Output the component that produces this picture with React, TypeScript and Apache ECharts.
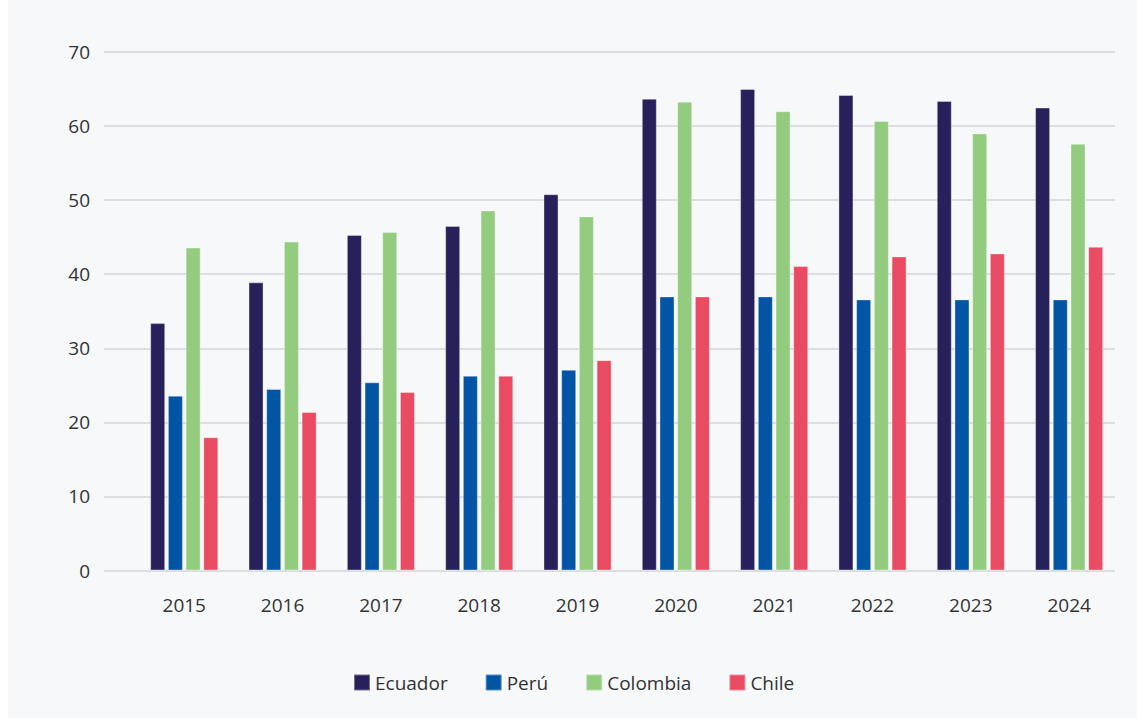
import React, { useEffect, useRef } from "react";
import * as echarts from "echarts";

const years = ["2015", "2016", "2017", "2018", "2019", "2020", "2021", "2022", "2023", "2024"];
const ecuador = [33.4, 38.9, 45.3, 46.5, 50.8, 63.7, 65.0, 64.2, 63.4, 62.5];
const peru = [23.6, 24.5, 25.4, 26.3, 27.1, 37.0, 37.0, 36.6, 36.6, 36.6];
const colombia = [43.6, 44.4, 45.7, 48.6, 47.8, 63.3, 62.0, 60.7, 59.0, 57.6];
const chile = [18.0, 21.4, 24.1, 26.3, 28.4, 37.0, 41.1, 42.4, 42.8, 43.7];
const seriesNames = ["Ecuador", "Perú", "Colombia", "Chile"];
const seriesColors = ["#26215a", "#0254a5", "#93cb7f", "#e94c62"];
const yTicks = { min: 0, max: 70, interval: 10 };

const FONT = "'Open Sans', 'Noto Sans', sans-serif";

export default function App() {
  const ref = useRef<HTMLDivElement>(null);
  useEffect(() => {
    if (!ref.current) return;
    const chart = echarts.init(ref.current, null, { renderer: "svg" });
    const datasets = [ecuador, peru, colombia, chile];
    chart.setOption({
      animation: false,
      backgroundColor: "#f7f8fa",
      textStyle: { fontFamily: FONT },
      legend: {
        left: 340,
        top: 668,
        itemWidth: 16,
        itemHeight: 16,
        itemGap: 37,
        icon: "rect",
        textStyle: { fontSize: 19, color: "#333", fontFamily: FONT, padding: [0, 0, 0, 0] },
        data: seriesNames,
      },
      grid: [
        { left: 96, top: 52, width: 1011, height: 518.5 },
        { left: 127.1, top: 52, width: 983.2, height: 518.5 },
      ],
      xAxis: [
        { gridIndex: 0, type: "category", data: years, show: false },
        {
          gridIndex: 1,
          type: "category",
          data: years,
          axisLine: { show: false },
          axisTick: { show: false },
          axisLabel: { color: "#333", fontSize: 19, margin: 25, fontFamily: FONT },
        },
      ],
      yAxis: [
        {
          gridIndex: 0,
          type: "value",
          min: yTicks.min,
          max: yTicks.max,
          interval: yTicks.interval,
          axisLine: { show: false },
          axisTick: { show: false },
          axisLabel: { color: "#333", fontSize: 19, margin: 14, fontFamily: FONT },
          splitLine: { lineStyle: { color: "#dcdde1", width: 2 } },
        },
        {
          gridIndex: 1,
          type: "value",
          min: yTicks.min,
          max: yTicks.max,
          interval: yTicks.interval,
          show: false,
          splitLine: { show: false },
        },
      ],
      series: seriesNames.map((name, i) => ({
        name,
        type: "bar",
        xAxisIndex: 1,
        yAxisIndex: 1,
        data: datasets[i],
        barWidth: 15,
        barGap: "18%",
        itemStyle: {
          color: seriesColors[i],
          borderColor: "rgba(255,255,255,0.35)",
          borderWidth: 1,
        },
      })),
    });
    return () => chart.dispose();
  }, []);
  return (
    <div style={{ position: "absolute", left: 8, top: 0, width: 1129, height: 718 }}>
      <div ref={ref} style={{ width: 1129, height: 718 }} />
    </div>
  );
}
